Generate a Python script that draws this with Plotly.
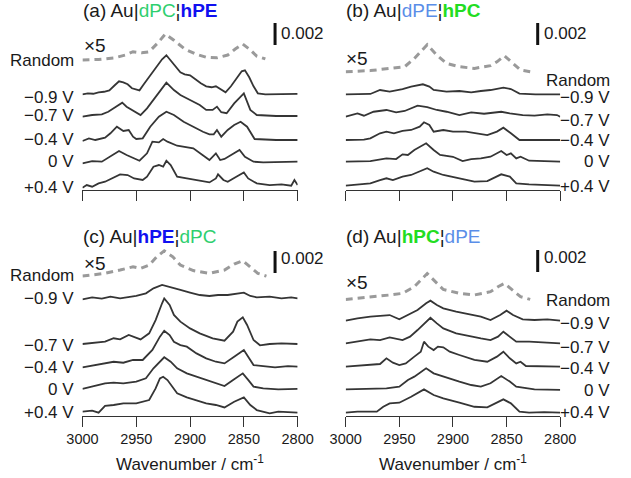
import plotly.graph_objects as go

W, H = 631, 478
FONT = "Arial, 'Liberation Sans', sans-serif"

# ---------------- data (absorbance in units of 1e-3) ----------------
potential_labels = ["Random", "−0.9 V", "−0.7 V", "−0.4 V", "0 V", "+0.4 V"]
x_ticks = [3000, 2950, 2900, 2850, 2800]
random_factor = 5
scale_bar_mA = 2  # 0.002

# (a) Au|dPC|hPE
a_rand_wn = [3000, 2985, 2970, 2960, 2953, 2945, 2938, 2930, 2923, 2915, 2905, 2895, 2885, 2875, 2865, 2858, 2851, 2845, 2838, 2830]
a_rand_mA = [0, 0.01, 0.04, 0.09, 0.15, 0.13, 0.15, 0.31, 0.47, 0.36, 0.20, 0.11, 0.05, 0.04, 0.09, 0.20, 0.29, 0.20, 0.07, 0.02]
a_m09_wn = [3000, 2995, 2990, 2985, 2980, 2975, 2970, 2966, 2962, 2958, 2954, 2950, 2947, 2943, 2938, 2932, 2926, 2922, 2918, 2913, 2909, 2905, 2900, 2895, 2890, 2885, 2880, 2876, 2872, 2867, 2862, 2857, 2852, 2849, 2845, 2841, 2837, 2830, 2820, 2810, 2800]
a_m09_mA = [0, 0.09, 0.05, 0.18, 0.23, 0.36, 0.82, 1.18, 1.09, 0.91, 0.55, 0.45, 0.36, 0.91, 1.55, 2.36, 3.18, 3.55, 3.09, 2.45, 2.0, 1.82, 1.73, 1.36, 1.0, 0.73, 0.64, 0.73, 0.45, 0.18, 0.73, 1.45, 2.09, 2.18, 1.55, 0.73, 0.09, 0, 0.03, 0, 0.03]
a_m07_wn = [3000, 2991, 2982, 2976, 2971, 2963, 2959, 2954, 2950, 2946, 2940, 2932, 2922, 2915, 2909, 2900, 2891, 2885, 2879, 2875, 2871, 2866, 2859, 2850, 2844, 2838, 2820, 2800]
a_m07_mA = [-0.06, 0.09, 0.15, 0.39, 0.70, 1.21, 0.85, 0.55, 0.34, 0.09, 0.70, 1.75, 3.03, 2.36, 1.91, 1.45, 1.0, 0.55, 0.55, 0.85, 0.34, 0.25, 1.15, 2.06, 0.55, 0.09, 0, 0]
a_m04_wn = [3000, 2994, 2988, 2979, 2974, 2968, 2962, 2957, 2953, 2950, 2944, 2937, 2929, 2922, 2915, 2906, 2897, 2888, 2882, 2878, 2875, 2871, 2865, 2859, 2853, 2847, 2840, 2820, 2800]
a_m04_mA = [-0.09, 0.15, 0, 0.21, 0.61, 1.21, 0.82, 0.91, 0.30, 0.09, 0.15, 1.21, 2.12, 2.57, 2.27, 1.66, 1.21, 0.75, 0.52, 0.52, 0.91, 0.30, 0.91, 1.36, 1.66, 1.21, 0.09, 0, 0]
a_0_wn = [3000, 2991, 2982, 2974, 2966, 2959, 2951, 2947, 2940, 2935, 2929, 2925, 2921, 2912, 2897, 2888, 2882, 2876, 2872, 2868, 2862, 2854, 2849, 2841, 2832, 2800]
a_0_mA = [-0.15, 0.06, 0, 0.45, 0.97, 0.61, 0.30, 0.09, 0.76, 1.82, 1.76, 2.06, 1.82, 1.45, 1.21, 0.61, 0.15, 0.76, 0.15, 0.25, 0.61, 1.06, 0.45, 0, -0.06, 0]
a_p04_wn = [3000, 2996, 2991, 2985, 2979, 2971, 2965, 2958, 2952, 2944, 2940, 2934, 2929, 2925, 2922, 2918, 2912, 2903, 2891, 2882, 2876, 2874, 2869, 2865, 2857, 2850, 2846, 2838, 2826, 2815, 2806, 2803, 2800]
a_p04_mA = [-0.18, 0.06, -0.09, 0.21, 0.36, 0.73, 1.03, 0.97, 0.66, 0.52, 0.82, 1.73, 1.88, 1.73, 2.27, 1.88, 0.82, 0.66, 0.43, 0.30, 0.66, 1.03, 0.52, 0.36, 0.82, 1.21, 0.66, 0.21, 0.06, 0.12, 0, 0.52, 0.06]

# (b) Au|dPE|hPC
b_rand_wn = [3000, 2977, 2959, 2945, 2936, 2924, 2915, 2906, 2894, 2880, 2865, 2859, 2852, 2844, 2837, 2828]
b_rand_mA = [0, 0.02, 0.06, 0.09, 0.24, 0.49, 0.30, 0.15, 0.09, 0.06, 0.11, 0.18, 0.29, 0.15, 0.03, 0]
b_m09_wn = [3000, 2989, 2977, 2968, 2959, 2947, 2939, 2928, 2922, 2918, 2906, 2894, 2883, 2874, 2865, 2853, 2846, 2838, 2823, 2800]
b_m09_mA = [0, 0.03, 0.03, 0.39, 0.24, 0.48, 0.70, 0.91, 0.70, 0.39, 0.24, 0.30, 0.18, 0.30, 0.39, 0.61, 0.48, 0.06, 0, 0]
b_m07_wn = [3000, 2995, 2989, 2983, 2974, 2962, 2953, 2945, 2933, 2924, 2915, 2906, 2894, 2883, 2871, 2855, 2847, 2835, 2824, 2812, 2803, 2800]
b_m07_mA = [0, 0.15, 0.30, 0.09, 0.45, 0.61, 0.39, 0.52, 1.0, 0.88, 0.61, 0.45, 0.15, 0.39, 0.27, 0.45, 0.30, 0.15, 0.09, 0.21, 0.15, 0]
b_m04_wn = [3000, 2983, 2977, 2968, 2962, 2955, 2947, 2939, 2931, 2927, 2922, 2918, 2909, 2900, 2888, 2877, 2868, 2859, 2853, 2846, 2838, 2800]
b_m04_mA = [0, 0.03, 0.15, 0.61, 0.76, 0.61, 0.82, 0.91, 1.21, 1.61, 1.36, 0.76, 0.91, 0.76, 0.76, 0.61, 0.45, 0.76, 1.12, 0.61, 0, 0]
b_0_wn = [3000, 2977, 2962, 2953, 2947, 2942, 2936, 2930, 2925, 2918, 2912, 2900, 2891, 2883, 2874, 2865, 2855, 2850, 2846, 2841, 2837, 2829, 2815, 2800]
b_0_mA = [0, 0.06, 0.30, 0.24, 0.67, 0.61, 1.06, 1.36, 1.67, 1.06, 0.61, 0.45, 0.06, 0.24, 0.30, 0.45, 0.97, 0.61, 0.76, 0.30, 0.45, 0.09, 0.06, 0]
b_p04_wn = [3000, 2989, 2977, 2968, 2962, 2956, 2947, 2939, 2931, 2924, 2918, 2909, 2894, 2880, 2868, 2859, 2855, 2847, 2841, 2829, 2815, 2800]
b_p04_mA = [-0.06, 0.06, 0.15, 0.45, 0.61, 0.45, 0.76, 0.91, 1.27, 1.52, 1.21, 0.91, 0.61, 0.30, 0.36, 0.76, 0.97, 0.76, 0.15, 0.06, 0, -0.06]

# (c) Au|hPE|dPC
c_rand_wn = [3000, 2979, 2965, 2953, 2946, 2938, 2931, 2924, 2916, 2909, 2897, 2882, 2868, 2859, 2851, 2844, 2837, 2829]
c_rand_mA = [-0.02, 0.03, 0.09, 0.15, 0.12, 0.18, 0.33, 0.44, 0.33, 0.18, 0.08, 0.03, 0.09, 0.20, 0.26, 0.15, 0.03, -0.02]
c_m09_wn = [3000, 2991, 2982, 2974, 2965, 2956, 2950, 2941, 2934, 2926, 2921, 2915, 2909, 2900, 2891, 2882, 2874, 2865, 2857, 2850, 2844, 2838, 2826, 2815, 2806, 2800]
c_m09_mA = [-0.09, 0.09, -0.03, 0.15, 0, 0.15, 0.21, 0.45, 0.91, 1.21, 1.06, 0.91, 0.76, 0.52, 0.30, 0.21, 0.30, 0.30, 0.45, 0.52, 0.21, 0.09, 0.15, 0, 0.09, 0]
c_m07_wn = [3000, 2988, 2979, 2971, 2965, 2957, 2951, 2946, 2938, 2932, 2926, 2924, 2919, 2915, 2909, 2900, 2891, 2879, 2868, 2860, 2856, 2851, 2847, 2841, 2835, 2826, 2815, 2800]
c_m07_mA = [0, 0.12, 0.21, 0.52, 0.42, 0.82, 0.61, 0.42, 0.97, 2.18, 3.70, 4.15, 3.55, 2.64, 2.03, 1.42, 0.97, 0.52, 0.30, 1.12, 2.03, 2.42, 1.73, 0.36, -0.12, 0, 0.06, 0]
c_m04_wn = [3000, 2988, 2979, 2971, 2962, 2953, 2944, 2935, 2928, 2924, 2919, 2915, 2909, 2903, 2894, 2885, 2876, 2868, 2859, 2853, 2850, 2846, 2841, 2832, 2821, 2809, 2800]
c_m04_mA = [-0.06, 0.15, 0.30, 0.45, 0.36, 0.61, 0.61, 1.52, 2.73, 3.27, 2.88, 2.27, 1.97, 1.82, 1.21, 0.76, 0.45, 0.30, 0.91, 1.36, 1.52, 0.91, 0.15, 0.06, -0.06, 0.06, 0]
c_0_wn = [3000, 2991, 2979, 2971, 2962, 2950, 2941, 2934, 2929, 2924, 2918, 2912, 2903, 2894, 2885, 2876, 2868, 2860, 2851, 2846, 2841, 2832, 2818, 2800]
c_0_mA = [-0.06, 0.15, 0.45, 0.52, 0.45, 0.61, 0.91, 1.82, 2.33, 2.82, 2.42, 1.82, 1.36, 1.06, 0.76, 0.45, 0.21, 0.76, 1.36, 0.76, 0.15, 0, -0.09, -0.06]
c_p04_wn = [3000, 2991, 2985, 2979, 2971, 2962, 2950, 2938, 2932, 2928, 2925, 2921, 2912, 2903, 2885, 2876, 2868, 2859, 2850, 2844, 2838, 2826, 2818, 2800]
c_p04_mA = [0, 0.09, -0.09, 0.52, 0.61, 0.76, 0.76, 1.06, 2.12, 3.03, 3.18, 2.88, 1.67, 1.30, 0.76, 0.61, 0.39, 0.91, 1.30, 0.61, 0.15, -0.15, 0, -0.09]

# (d) Au|hPC|dPE
d_rand_wn = [3000, 2977, 2959, 2947, 2936, 2924, 2918, 2909, 2894, 2880, 2865, 2858, 2852, 2844, 2837, 2828]
d_rand_mA = [-0.02, 0.02, 0.06, 0.09, 0.21, 0.45, 0.33, 0.16, 0.09, 0.06, 0.12, 0.21, 0.27, 0.15, 0.03, -0.02]
d_m09_wn = [3000, 2989, 2977, 2968, 2959, 2950, 2942, 2933, 2925, 2921, 2915, 2909, 2897, 2883, 2874, 2865, 2856, 2850, 2844, 2835, 2824, 2812, 2800]
d_m09_mA = [-0.06, 0.15, 0.30, 0.36, 0.45, 0.06, 0.45, 0.91, 1.52, 1.76, 1.36, 1.06, 0.76, 0.45, 0.30, 0, 0.45, 0.85, 0.45, 0.06, 0, 0.06, -0.06]
d_m07_wn = [3000, 2989, 2977, 2968, 2959, 2947, 2940, 2933, 2925, 2921, 2915, 2909, 2897, 2883, 2874, 2865, 2858, 2853, 2847, 2841, 2829, 2815, 2800]
d_m07_mA = [-0.06, 0.09, 0.30, 0.24, 0.48, 0.24, 0.55, 1.15, 1.91, 2.27, 1.76, 1.30, 0.85, 0.55, 0.39, 0.24, 0.55, 1.0, 0.55, 0.09, 0.09, 0, -0.06]
d_m04_wn = [3000, 2989, 2977, 2968, 2962, 2956, 2950, 2944, 2936, 2930, 2927, 2923, 2918, 2914, 2909, 2903, 2894, 2880, 2868, 2859, 2853, 2847, 2841, 2837, 2832, 2815, 2800]
d_m04_mA = [-0.06, 0, 0.09, 0.18, 0.70, 0.30, 0.09, 0.24, 0.85, 1.30, 2.21, 1.76, 1.45, 1.76, 1.70, 1.30, 1.0, 0.55, 0.39, 0.85, 1.30, 0.70, 0.24, 0.39, 0, 0, -0.06]
d_0_wn = [3000, 2977, 2962, 2950, 2942, 2936, 2930, 2925, 2918, 2909, 2894, 2883, 2874, 2865, 2855, 2847, 2841, 2824, 2800]
d_0_mA = [0, 0.03, 0.09, 0.24, 0.85, 1.15, 1.61, 1.91, 1.45, 1.15, 0.70, 0.39, 0.24, 0.55, 1.21, 0.70, 0.24, 0, -0.06]
d_p04_wn = [3000, 2989, 2971, 2965, 2959, 2950, 2939, 2933, 2927, 2918, 2909, 2894, 2880, 2868, 2859, 2853, 2846, 2838, 2829, 2815, 2800]
d_p04_mA = [-0.09, 0, 0, 0.45, 0.76, 0.82, 1.36, 1.67, 2.03, 1.52, 1.21, 0.82, 0.45, 0.39, 0.82, 1.12, 0.76, 0, -0.09, -0.03, -0.09]

# ---------------- layout constants (pixels / offsets) ----------------
PX_PER_UNIT = 11.0  # pixels per 1e-3 absorbance

panels = [
    dict(series=[(a_rand_wn, a_rand_mA), (a_m09_wn, a_m09_mA), (a_m07_wn, a_m07_mA),
                 (a_m04_wn, a_m04_mA), (a_0_wn, a_0_mA), (a_p04_wn, a_p04_mA)],
         offsets_px=[130, 95.7, 74, 50, 28.3, 4.3],
         xpx=(70, 296.7), ypx=(0, 190), bottom=False,
         label_side="left", label_ys=[60, 97, 115, 139, 162, 187],
         title="(a) Au|<span style='color:#2fcf6f'>dPC</span>¦<b><span style='color:#1010f0'>hPE</span></b>",
         title_xy=(68, 11), x5_xy=(69, 46), bar_px=(45, 23), bar_text_xy=(277, 33)),
    dict(series=[(b_rand_wn, b_rand_mA), (b_m09_wn, b_m09_mA), (b_m07_wn, b_m07_mA),
                 (b_m04_wn, b_m04_mA), (b_0_wn, b_0_mA), (b_p04_wn, b_p04_mA)],
         offsets_px=[118.3, 95.7, 73.3, 50, 28.3, 5],
         xpx=(347.3, 573.3), ypx=(0, 190), bottom=False,
         label_side="right", label_ys=[80, 97, 120, 141, 162, 186],
         title="(b) Au|<span style='color:#5a8ee8'>dPE</span>¦<b><span style='color:#22dd22'>hPC</span></b>",
         title_xy=(345, 11), x5_xy=(346, 58), bar_px=(45, 23), bar_text_xy=(554, 33)),
    dict(series=[(c_rand_wn, c_rand_mA), (c_m09_wn, c_m09_mA), (c_m07_wn, c_m07_mA),
                 (c_m04_wn, c_m04_mA), (c_0_wn, c_0_mA), (c_p04_wn, c_p04_mA)],
         offsets_px=[140.7, 117.4, 71.7, 49, 27.4, 4],
         xpx=(70, 296.7), ypx=(224.7, 415.7), bottom=True,
         label_side="left", label_ys=[275, 298, 345, 367, 389, 412],
         title="(c) Au|<b><span style='color:#1010f0'>hPE</span></b>¦<span style='color:#2fcf6f'>dPC</span>",
         title_xy=(68, 236), x5_xy=(69, 263), bar_px=(273, 251), bar_text_xy=(277, 258)),
    dict(series=[(d_rand_wn, d_rand_mA), (d_m09_wn, d_m09_mA), (d_m07_wn, d_m07_mA),
                 (d_m04_wn, d_m04_mA), (d_0_wn, d_0_mA), (d_p04_wn, d_p04_mA)],
         offsets_px=[117.4, 95.7, 73, 49.7, 26.4, 4],
         xpx=(347.3, 573.3), ypx=(224.7, 415.7), bottom=True,
         label_side="right", label_ys=[300, 323, 347, 368, 390, 412],
         title="(d) Au|<b><span style='color:#22dd22'>hPC</span></b>¦<span style='color:#5a8ee8'>dPE</span>",
         title_xy=(345, 236), x5_xy=(346, 282), bar_px=(272, 250), bar_text_xy=(554, 257)),
]

BAR_WN = 2821
LINE_COLOR = "#353535"
RAND_COLOR = "#9a9a9a"
TEXT_COLOR = "#1a1a1a"


def ann(text, px, py, size, xanchor="left"):
    return dict(text=text, x=px / W, y=1 - py / H, xref="paper", yref="paper",
                xanchor=xanchor, yanchor="middle", showarrow=False,
                font=dict(size=size, family=FONT, color=TEXT_COLOR))


fig = go.Figure()
annotations = []
shapes = []
layout_axes = {}

for k, p in enumerate(panels, start=1):
    xa = "x" if k == 1 else f"x{k}"
    ya = "y" if k == 1 else f"y{k}"
    axis_h_px = p["ypx"][1] - p["ypx"][0]
    for i, (wn, vals) in enumerate(p["series"]):
        off = p["offsets_px"][i] / PX_PER_UNIT
        factor = random_factor if i == 0 else 1
        yv = [off + factor * v for v in vals]
        if i == 0:
            line = dict(color=RAND_COLOR, width=3, dash="7px,5px")
        else:
            line = dict(color=LINE_COLOR, width=1.8)
        fig.add_trace(go.Scatter(x=wn, y=yv, mode="lines", line=line,
                                 xaxis=xa, yaxis=ya, showlegend=False,
                                 hoverinfo="skip"))
    xkey = "xaxis" if k == 1 else f"xaxis{k}"
    ykey = "yaxis" if k == 1 else f"yaxis{k}"
    layout_axes[xkey] = dict(
        domain=[p["xpx"][0] / W, p["xpx"][1] / W], anchor=ya,
        range=[3000, 2800], tickvals=x_ticks, ticks="outside", ticklen=10,
        tickwidth=1, tickcolor="#333", showline=True, linecolor="#333", linewidth=1,
        showgrid=False, zeroline=False, showticklabels=p["bottom"],
        tickfont=dict(size=14.5, family=FONT, color=TEXT_COLOR), mirror=False)
    layout_axes[ykey] = dict(
        domain=[1 - p["ypx"][1] / H, 1 - p["ypx"][0] / H], anchor=xa,
        range=[0, axis_h_px / PX_PER_UNIT], visible=False, showgrid=False,
        zeroline=False)
    # scale bar (0.002)
    base = (p["ypx"][1] - p["bar_px"][0]) / PX_PER_UNIT
    shapes.append(dict(type="line", xref=xa, yref=ya, x0=BAR_WN, x1=BAR_WN,
                       y0=base, y1=base + scale_bar_mA,
                       line=dict(color="#111", width=3)))
    annotations.append(ann("0.002", p["bar_text_xy"][0], p["bar_text_xy"][1], 17))
    annotations.append(ann("×5", p["x5_xy"][0], p["x5_xy"][1], 19))
    annotations.append(ann(p["title"], p["title_xy"][0], p["title_xy"][1], 19))
    for lab, ly in zip(potential_labels, p["label_ys"]):
        lx = 63 if p["label_side"] == "left" else 628
        annotations.append(ann(lab, lx, ly, 17, xanchor="right"))
    if p["bottom"]:
        cx = (p["xpx"][0] + p["xpx"][1]) / 2
        annotations.append(ann("Wavenumber / cm<sup>-1</sup>", cx, 463, 17, xanchor="center"))

fig.update_layout(
    width=W, height=H, margin=dict(l=0, r=0, t=0, b=0),
    paper_bgcolor="white", plot_bgcolor="white",
    annotations=annotations, shapes=shapes, showlegend=False,
    **layout_axes)

fig.write_html("out.html")
